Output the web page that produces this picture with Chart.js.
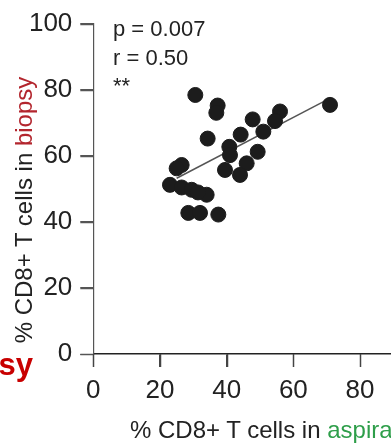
<!DOCTYPE html>
<html>
<head>
<meta charset="utf-8">
<script src="https://cdn.jsdelivr.net/npm/chart.js@4"></script>
<style>
  html, body { margin: 0; padding: 0; background: #fff; overflow: hidden; }
  body { width: 391px; height: 444px; position: relative; font-family: "Liberation Sans", Arial, sans-serif; color: #222; }
  #chart { position: absolute; left: 0; top: 0; }
  .txt { position: absolute; white-space: nowrap; }
  #stats { left: 113px; top: 15px; font-size: 22px; line-height: 28.7px; }
  #ytitle { left: -136px; top: 198px; width: 320px; height: 24px; font-size: 24px; line-height: 24px; text-align: center; transform: rotate(-90deg); }
  #xtitle { left: 130px; top: 418px; font-size: 24px; line-height: 24px; }
  #panel { left: -200px; top: 350px; width: 233px; text-align: right; font-size: 31px; line-height: 30px; font-weight: bold; color: #c80000; }
  .bx { color: #b3262e; }
  .ax { color: #2e9e4a; }
</style>
</head>
<body>
<canvas id="chart" width="460" height="444"></canvas>
<div class="txt" id="stats">p = 0.007<br>r = 0.50<br>**</div>
<div class="txt" id="ytitle">% CD8+ T cells in <span class="bx">biopsy</span></div>
<div class="txt" id="xtitle">% CD8+ T cells in <span class="ax">aspirate</span></div>
<div class="txt" id="panel">Biopsy</div>
<script>
// % CD8+ T cells, aspirate (x) vs biopsy (y), one entry per patient
const aspirate = [30.6, 37.3, 36.9, 47.8, 56.0, 54.5, 71.0, 51.0, 44.2, 34.3,
                  40.8, 41.0, 49.3, 46.0, 39.5, 44.0, 26.5, 25.0, 23.0, 26.5,
                  29.5, 34.0, 31.4, 28.5, 32.0, 37.5];
const biopsy   = [78.4, 75.2, 73.0, 71.0, 73.4, 70.5, 75.4, 67.3, 66.4, 65.2,
                  62.7, 60.2, 61.2, 57.7, 55.7, 54.2, 57.2, 56.2, 51.2, 50.4,
                  49.7, 48.2, 48.9, 42.7, 42.7, 42.2];

// linear fit drawn across the data range
const fitX = [25.0, 69.5];
const fitY = [53.2, 76.6];

const tickValues = [0, 20, 40, 60, 80, 100];

const FONT = '"Liberation Sans", Arial, sans-serif';
const TICK_LEN = 13;

// outward tick marks, placed with the scales' own pixel mapping
const outerTicks = {
  id: 'outerTicks',
  afterDraw(chart) {
    const c = chart.ctx;
    const xs = chart.scales.x;
    const ys = chart.scales.y;
    c.save();
    c.lineWidth = 1.5;
    c.strokeStyle = '#555';
    ys.ticks.forEach(t => {
      const py = Math.round(ys.getPixelForValue(t.value)) + 0.5;
      c.beginPath();
      c.moveTo(ys.right - TICK_LEN, py);
      c.lineTo(ys.right, py);
      c.stroke();
    });
    c.strokeStyle = '#444';
    xs.ticks.forEach(t => {
      const px = Math.round(xs.getPixelForValue(t.value)) + 0.5;
      c.beginPath();
      c.moveTo(px, xs.top);
      c.lineTo(px, xs.top + TICK_LEN);
      c.stroke();
    });
    c.restore();
  }
};

const ctx = document.getElementById('chart').getContext('2d');
new Chart(ctx, {
  type: 'scatter',
  data: {
    datasets: [
      {
        label: 'patients',
        data: aspirate.map((x, i) => ({ x: x, y: biopsy[i] })),
        backgroundColor: '#1c1c1c',
        borderColor: '#1c1c1c',
        borderWidth: 1,
        pointRadius: 7.5,
        pointHoverRadius: 7.5,
        order: 1
      },
      {
        label: 'fit',
        type: 'line',
        data: fitX.map((x, i) => ({ x: x, y: fitY[i] })),
        borderColor: '#555',
        borderWidth: 1.5,
        pointRadius: 0,
        fill: false,
        order: 2
      }
    ]
  },
  plugins: [outerTicks],
  options: {
    responsive: false,
    animation: false,
    layout: { padding: { left: 0, top: 20.7, right: 33.3, bottom: 0 } },
    plugins: {
      legend: { display: false },
      tooltip: { enabled: false }
    },
    scales: {
      x: {
        type: 'linear',
        min: 0,
        max: 100,
        afterBuildTicks: scale => { scale.ticks = tickValues.map(v => ({ value: v })); },
        afterFit: scale => { scale.height = 90; },
        grid: { drawOnChartArea: false, drawTicks: true, tickLength: TICK_LEN, color: '#444' },
        border: { display: true, color: '#222', width: 1.5 },
        ticks: { color: '#222', padding: 8, font: { family: FONT, size: 26 } }
      },
      y: {
        type: 'linear',
        min: 0,
        max: 100,
        afterBuildTicks: scale => { scale.ticks = tickValues.map(v => ({ value: v })); },
        afterFit: scale => { scale.width = 93.3; },
        grid: { drawOnChartArea: false, drawTicks: true, tickLength: TICK_LEN, color: '#555' },
        border: { display: true, color: '#555', width: 1.2 },
        ticks: { color: '#222', padding: 8, font: { family: FONT, size: 26 } }
      }
    }
  }
});
</script>
</body>
</html>
